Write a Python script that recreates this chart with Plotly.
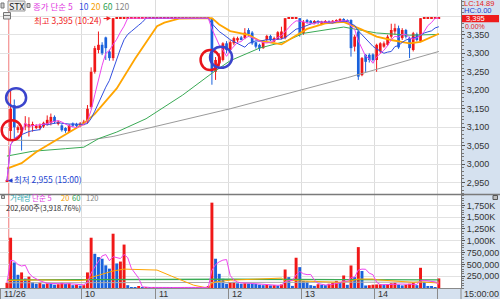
import pandas as pd
import plotly.graph_objects as go
from plotly.subplots import make_subplots

# ---------------- data (3-minute slots: -1 = prev. 15:00, 0 = 09:00 ... 116 = 14:48, 117 = 15:00) ----
slots = list(range(-1, 118))

opens = [2955,
         3090, 3160, 3095, 3100, 3102, 3100, 3105, 3100, 3098, 3102,
         3108, 3112, 3128, 3110, 3105, 3098, 3088, 3110, 3108, 3104,
         3108, 3115, 3155, 3250, 3309, 3323, 3343, 3305, 3287,
         3395, 3395, 3395, 3395, 3395, 3395, 3395, 3395, 3395, 3395, 3395, 3395, 3395,
         3395, 3395, 3395, 3395, 3395, 3395, 3395, 3395, 3395, 3395, 3395, 3395, 3395,
         3395, 3250, 3273, 3282, 3327,
         3309, 3327, 3335, 3343, 3341, 3363, 3356, 3330, 3323, 3314,
         3336, 3347, 3332, 3338, 3341, 3341, 3395, 3395, 3395, 3395,
         3355, 3390, 3388, 3382, 3387, 3380, 3382, 3386, 3383, 3386,
         3388, 3392, 3390, 3390, 3318, 3359, 3241, 3296, 3296, 3297,
         3282, 3305, 3318, 3323, 3345, 3359, 3368, 3341, 3363, 3341,
         3309, 3352, 3332, 3395, 3395, 3395, 3395, 3395]
highs = [2960,
         3200, 3175, 3105, 3102, 3130, 3127, 3115, 3108, 3110, 3115,
         3132, 3137, 3132, 3118, 3108, 3100, 3108, 3113, 3112, 3114,
         3120, 3160, 3262, 3320, 3359, 3330, 3345, 3310, 3395,
         3395, 3395, 3395, 3395, 3395, 3395, 3395, 3395, 3395, 3395, 3395, 3395, 3395,
         3395, 3395, 3395, 3395, 3395, 3395, 3395, 3395, 3395, 3395, 3395, 3395, 3395,
         3395, 3290, 3300, 3330, 3333,
         3335, 3345, 3345, 3347, 3368, 3368, 3360, 3332, 3326, 3336,
         3350, 3350, 3345, 3360, 3372, 3395, 3395, 3395, 3395, 3395,
         3390, 3393, 3390, 3390, 3390, 3388, 3390, 3389, 3390, 3392,
         3395, 3395, 3392, 3392, 3350, 3362, 3290, 3298, 3300, 3300,
         3326, 3330, 3332, 3350, 3380, 3380, 3375, 3368, 3366, 3345,
         3358, 3356, 3395, 3395, 3395, 3395, 3395, 3395]
lows = [2955,
        3065, 3070, 3085, 3037, 3092, 3075, 3088, 3095, 3092, 3098,
        3105, 3105, 3110, 3105, 3088, 3085, 3085, 3100, 3100, 3100,
        3105, 3110, 3150, 3245, 3300, 3295, 3282, 3280, 3280,
        3395, 3395, 3395, 3395, 3395, 3395, 3395, 3395, 3395, 3395, 3395, 3395, 3395,
        3395, 3395, 3395, 3395, 3395, 3395, 3395, 3395, 3395, 3395, 3395, 3395, 3395,
        3215, 3228, 3265, 3278, 3300,
        3300, 3322, 3330, 3335, 3338, 3345, 3323, 3313, 3306, 3312,
        3333, 3333, 3330, 3336, 3338, 3338, 3395, 3395, 3395, 3345,
        3350, 3380, 3378, 3380, 3378, 3376, 3380, 3380, 3381, 3384,
        3386, 3386, 3383, 3291, 3305, 3228, 3238, 3250, 3275, 3278,
        3250, 3300, 3315, 3320, 3340, 3350, 3312, 3336, 3340, 3287,
        3305, 3332, 3330, 3395, 3395, 3395, 3395, 3395]
closes = [2955,
          3150, 3100, 3100, 3095, 3110, 3108, 3107, 3104, 3105, 3112,
          3120, 3128, 3115, 3115, 3092, 3090, 3105, 3104, 3104, 3110,
          3115, 3150, 3250, 3314, 3323, 3300, 3314, 3287, 3395,
          3395, 3395, 3395, 3395, 3395, 3395, 3395, 3395, 3395, 3395, 3395, 3395, 3395,
          3395, 3395, 3395, 3395, 3395, 3395, 3395, 3395, 3395, 3395, 3395, 3395, 3395,
          3250, 3282, 3291, 3327, 3309,
          3330, 3341, 3341, 3338, 3356, 3352, 3327, 3318, 3314, 3334,
          3347, 3336, 3341, 3357, 3359, 3395, 3395, 3395, 3395, 3355,
          3385, 3384, 3383, 3387, 3382, 3385, 3386, 3383, 3388, 3390,
          3392, 3388, 3385, 3314, 3345, 3237, 3287, 3277, 3282, 3282,
          3323, 3327, 3327, 3345, 3363, 3368, 3316, 3363, 3345, 3314,
          3354, 3336, 3395, 3395, 3395, 3395, 3395, 3395]
volumes = [110000,
           1065000, 540000, 280000, 330000, 200000, 240000, 120000, 90000, 110000, 80000,
           100000, 95000, 70000, 80000, 110000, 90000, 100000, 60000, 70000, 50000,
           60000, 330000, 1065000, 725000, 655000, 620000, 480000, 410000, 1150000,
           520000, 560000, 920000, 60000, 20000, 10000, 25000, 8000, 12000, 6000, 10000,
           5000, 15000, 8000, 20000, 6000, 10000, 5000, 8000, 12000, 6000, 5000, 10000, 8000, 15000, 30000,
           1808000, 620000, 300000, 195000, 90000,
           123000, 130000, 100000, 90000, 100000, 95000, 90000, 85000, 70000, 60000,
           65000, 55000, 60000, 50000, 75000, 392000, 230000, 45000, 641000, 442000,
           150000, 140000, 60000, 45000, 80000, 70000, 60000, 90000, 110000, 150000,
           120000, 265000, 68000, 477000, 230000, 866000, 360000, 53000, 60000, 70000,
           75000, 80000, 70000, 85000, 100000, 110000, 70000, 55000, 70000, 90000,
           110000, 60000, 428000, 130000, 35000, 25000, 15000, 202600]

# longer moving averages (need earlier sessions) : (slot, value)
ma20_slot = [-1, 3, 7, 12, 15, 20, 23, 26, 29, 34, 40, 42, 46, 55, 57, 60, 65, 68, 74, 77, 81, 86, 91, 96, 100, 104, 109, 112, 117]
ma20_val = [2988, 3003, 3033, 3062, 3081, 3110, 3136, 3170, 3205, 3285, 3373, 3383, 3394, 3395, 3378, 3360, 3350, 3334, 3324, 3342, 3366, 3381, 3385, 3364, 3345, 3336, 3327, 3331, 3353]
ma60_slot = [-1, 6, 15, 20, 24, 29, 37, 47, 55, 60, 68, 75, 80, 87, 91, 96, 100, 109, 117]
ma60_val = [3022, 3035, 3042, 3046, 3069, 3087, 3123, 3187, 3246, 3280, 3314, 3332, 3354, 3366, 3371, 3362, 3355, 3349, 3351]
ma120_slot = [-1, 20, 28, 60, 92, 117]
ma120_val = [3065, 3063, 3075, 3150, 3234, 3305]

vma20_slot = [-1, 8, 19, 21, 22, 25, 28, 31, 40, 44, 46, 48, 50, 53, 54, 55, 56, 60, 66, 74, 75, 78, 79, 85, 90, 93, 95, 99, 100, 110, 112, 117]
vma20_val = [160000, 170000, 160000, 175000, 225000, 300000, 360000, 400000, 380000, 250000, 190000, 115000, 60000, 12000, 12000, 100000, 130000, 165000, 190000, 210000, 142000, 165000, 150000, 130000, 120000, 150000, 190000, 190000, 175000, 120000, 130000, 105000]
vma60_slot = [-1, 30, 60, 90, 117]
vma60_val = [172000, 180000, 185000, 178000, 172000]
vma120_slot = [-1, 60, 117]
vma120_val = [110000, 118000, 125000]

hour_ticks = [-2.63, 19.5, 39.5, 59.5, 79.5, 99.5, 116.5]
hour_labels = ["11/26", "10", "11", "12", "13", "14"]
price_ticks = [2950, 3000, 3050, 3100, 3150, 3200, 3250, 3300, 3350, 3400]
vol_ticks = [250000, 500000, 750000, 1000000, 1250000, 1500000, 1750000]
vol_tick_text = ["250,000", "500,000", "750,000", "1,000K", "1,250K", "1,500K", "1,750K"]

# ---------------- styling ----------------
W, H = 500, 299
MR, MB = 39, 11
PW, PH = W - MR, H - MB
RED, BLUE = "#f01818", "#1a62dc"
FONT = "Noto Sans CJK KR"


def px(x):
    return x / PW


def py(y):
    return 1 - y / PH


df = pd.DataFrame({"slot": slots, "o": opens, "h": highs, "l": lows, "c": closes, "v": volumes})
df["ma5"] = df["c"].rolling(5, min_periods=1).mean()
df["ma10"] = df["c"].rolling(10, min_periods=1).mean()
df["vma5"] = df["v"].rolling(5, min_periods=1).mean()

cols = []
prev = None
for o, c in zip(df.o, df.c):
    if c > o:
        cols.append(RED)
    elif c < o:
        cols.append(BLUE)
    else:
        cols.append(RED if prev is None or c >= prev else BLUE)
    prev = c
vcols = []
pv = None
for v in df.v:
    vcols.append(RED if pv is None or v >= pv else BLUE)
    pv = v

fig = make_subplots(rows=2, cols=1, shared_xaxes=True, vertical_spacing=0)

# wicks
for colr in (RED, BLUE):
    xs, ys = [], []
    for s, h, l, cc in zip(df.slot, df.h, df.l, cols):
        if cc == colr and h > l:
            xs += [s, s, None]
            ys += [l, h, None]
    fig.add_trace(go.Scatter(x=xs, y=ys, mode="lines", line=dict(color=colr, width=1),
                             hoverinfo="skip"), row=1, col=1)
# bodies
body_base = [min(o, c) if abs(c - o) >= 2.5 else min(o, c) - 1.2 for o, c in zip(df.o, df.c)]
body_h = [max(abs(c - o), 2.5) for o, c in zip(df.o, df.c)]
fig.add_trace(go.Bar(x=df.slot, y=body_h, base=body_base, width=0.74,
                     marker=dict(color=cols, line=dict(width=0))), row=1, col=1)

# moving averages (price)
fig.add_trace(go.Scatter(x=ma120_slot, y=ma120_val, mode="lines", line=dict(color="#9a9a9a", width=1)), row=1, col=1)
fig.add_trace(go.Scatter(x=ma60_slot, y=ma60_val, mode="lines", line=dict(color="#3aaa55", width=1)), row=1, col=1)
fig.add_trace(go.Scatter(x=ma20_slot, y=ma20_val, mode="lines", line=dict(color="#ffa500", width=1.8)), row=1, col=1)
fig.add_trace(go.Scatter(x=df.slot, y=df.ma10, mode="lines", line=dict(color="#3450e0", width=1)), row=1, col=1)
fig.add_trace(go.Scatter(x=df.slot, y=df.ma5, mode="lines", line=dict(color="#ee44ee", width=1)), row=1, col=1)

# volume
fig.add_trace(go.Bar(x=df.slot, y=df.v, width=0.8, marker=dict(color=vcols, line=dict(width=0))), row=2, col=1)
fig.add_trace(go.Scatter(x=vma120_slot, y=vma120_val, mode="lines", line=dict(color="#aaaaaa", width=1)), row=2, col=1)
fig.add_trace(go.Scatter(x=vma60_slot, y=vma60_val, mode="lines", line=dict(color="#3aaa55", width=1.4)), row=2, col=1)
fig.add_trace(go.Scatter(x=vma20_slot, y=vma20_val, mode="lines", line=dict(color="#ffa500", width=1)), row=2, col=1)
fig.add_trace(go.Scatter(x=df.slot, y=df.vma5, mode="lines", line=dict(color="#ee44ee", width=1)), row=2, col=1)

xr = [-2.9, -2.9 + PW / 3.66]
grid = "#dcdcdc"
fig.update_layout(
    width=W, height=H, margin=dict(l=0, r=MR, t=0, b=MB),
    paper_bgcolor="#d5e1ef", plot_bgcolor="white", showlegend=False, barmode="overlay",
    font=dict(family=FONT, size=9, color="#333"),
    xaxis=dict(range=xr, tickvals=hour_ticks, showticklabels=False, showgrid=True, gridcolor=grid,
               zeroline=False, ticks=""),
    xaxis2=dict(range=xr, tickvals=hour_ticks, showticklabels=False, showgrid=True, gridcolor=grid,
                zeroline=False, ticks="outside", ticklen=11, tickcolor="#8a8a8a",
                showline=True, linecolor="#8a8a8a", linewidth=1),
    yaxis=dict(domain=[1 - 194 / PH, 1], range=[2919.4, 3444.2], side="right",
               tickvals=price_ticks, ticktext=[f"{v:,}" if v < 3400 else "" for v in price_ticks],
               gridcolor="#e2e2e2", zeroline=False, showline=True, linecolor="#777", linewidth=1,
               ticks="outside", ticklen=3, tickcolor="#555", tickfont=dict(family="Liberation Sans", size=9, color="#333"),
               minor=dict(ticks="outside", ticklen=2, dtick=10, tickcolor="#777")),
    yaxis2=dict(domain=[0, 1 - 195 / PH], range=[0, 1970000], side="right",
                tickvals=vol_ticks, ticktext=vol_tick_text,
                gridcolor="#e2e2e2", zeroline=False, showline=True, linecolor="#777", linewidth=1,
                ticks="outside", ticklen=3, tickcolor="#555", tickfont=dict(family="Liberation Sans", size=9, color="#333"),
                minor=dict(ticks="outside", ticklen=2, dtick=50000, tickcolor="#777")),
)

shapes = []
# 09:00 session line
shapes.append(dict(type="line", xref="x", yref="paper", x0=-0.5, x1=-0.5, y0=0, y1=1,
                   line=dict(color="#f07a7a", width=1), layer="below"))
# panel separator
shapes.append(dict(type="line", xref="paper", yref="paper", x0=0, x1=W / PW, y0=py(194.5), y1=py(194.5),
                   line=dict(color="#7a7a7a", width=1.5)))
shapes.append(dict(type="line", xref="paper", yref="paper", x0=1, x1=1, y0=py(288), y1=py(299),
                   line=dict(color="#8a8a8a", width=1)))
# legend boxes
shapes.append(dict(type="rect", xref="paper", yref="paper", x0=px(8), x1=px(25), y0=py(11), y1=py(1),
                   fillcolor="#ececec", line=dict(color="#999", width=1)))
for (a, b, c, d) in [(1, 4, 3, 8), (27, 30, 3.5, 7.5), (1.5, 4.5, 195.5, 198.5)]:
    shapes.append(dict(type="rect", xref="paper", yref="paper", x0=px(a), x1=px(b), y0=py(d), y1=py(c),
                       fillcolor="#cfcfcf", line=dict(color="#777", width=1)))
shapes.append(dict(type="rect", xref="paper", yref="paper", x0=px(3.5), x1=px(10.5), y0=py(19), y1=py(12.5),
                   fillcolor="#e8e8e8", line=dict(color="#777", width=1)))
shapes.append(dict(type="line", xref="paper", yref="paper", x0=px(3.5), x1=px(10.5), y0=py(15.5), y1=py(15.5),
                   line=dict(color="#777", width=1)))
shapes.append(dict(type="rect", xref="paper", yref="paper", x0=px(493), x1=px(497.5), y0=py(199.5), y1=py(195.5),
                   fillcolor="#bbbbbb", line=dict(color="#555", width=1)))
# price box on the axis
shapes.append(dict(type="rect", xref="paper", yref="paper", x0=px(462), x1=px(499), y0=py(22.3), y1=py(15.0),
                   fillcolor="#ee1c1c", line=dict(width=0)))
# highlight circles anchored to bars
circles = [(RED, 0.3, 3092, 10, 10), (BLUE, 1.5, 3180, 10, 9.5), (RED, 54.5, 3282, 9.5, 10), (BLUE, 57.5, 3289, 11, 10.5)]
for colr, cx, cy, rx, ry in circles:
    shapes.append(dict(type="circle", xref="x", yref="y", xsizemode="pixel", ysizemode="pixel",
                       xanchor=cx, yanchor=cy, x0=-rx, x1=rx, y0=-ry, y1=ry,
                       line=dict(color="#e8141c" if colr == RED else "#3a44cc", width=2.5)))
fig.update_layout(shapes=shapes)

ann = []


def txt(x, y, s, color="#333", size=9, anchor="left", family=FONT):
    ann.append(dict(xref="paper", yref="paper", x=px(x), y=py(y), text=s, showarrow=False,
                    xanchor=anchor, yanchor="middle", font=dict(color=color, size=size, family=family)))


txt(16.5, 6, "STX", "#222", 9, "center")
txt(31, 6, "종가 단순 5", "#e03ce0", 8.5)
txt(77, 6, "10", "#3450e0", 8.5)
txt(89, 6, "20", "#f5a000", 8.5)
txt(101, 6, "60", "#2aa050", 8.5)
txt(113, 6, "120", "#888", 8.5)
txt(8, 197.3, "거래량", "#30a8b0", 7.5)
txt(30, 197.3, "단순 5", "#e03ce0", 7.5)
txt(59, 197.3, "20", "#f5a000", 7.5)
txt(70, 197.3, "60", "#2aa050", 7.5)
txt(84, 197.3, "120", "#888", 7.5)
txt(4, 207, "202,600주(3,918.76%)", "#333", 7.5)
txt(462, 3.8, "LC:14.89", "#e52020", 7.5, family="Liberation Sans")
txt(462, 11.0, "HC:0.00", "#2040d0", 7.5, family="Liberation Sans")
txt(464, 18.6, "3,395", "#ffffff", 7.5, family="Liberation Sans")
txt(463, 26.9, "0.00%", "#e52020", 7, family="Liberation Sans")
txt(462, 293.5, "15:00:00", "#333", 9, family="Liberation Sans")
for t, lab in zip(hour_ticks, hour_labels):
    ann.append(dict(xref="x", yref="paper", x=t, y=py(293.5), xshift=1.5, text=lab, showarrow=False,
                    xanchor="left", yanchor="middle", font=dict(color="#333", size=9, family="Liberation Sans")))
# high / low markers
ann.append(dict(xref="x", yref="y", x=28, y=3395, text="최고 3,395 (10:24)", showarrow=True,
                ax=-45, ay=2, arrowhead=2, arrowsize=0.9, arrowwidth=1, arrowcolor="#f02020", standoff=2,
                font=dict(color="#f02020", size=8.5, family=FONT)))
ann.append(dict(xref="x", yref="y", x=-1, y=2955, text="최저 2,955 (15:00)", showarrow=True,
                ax=41, ay=-2, arrowhead=2, arrowsize=0.9, arrowwidth=1, arrowcolor="#2040d0", standoff=1,
                font=dict(color="#2040d0", size=8.5, family=FONT)))
fig.update_layout(annotations=ann)

fig.write_html("out.html")
